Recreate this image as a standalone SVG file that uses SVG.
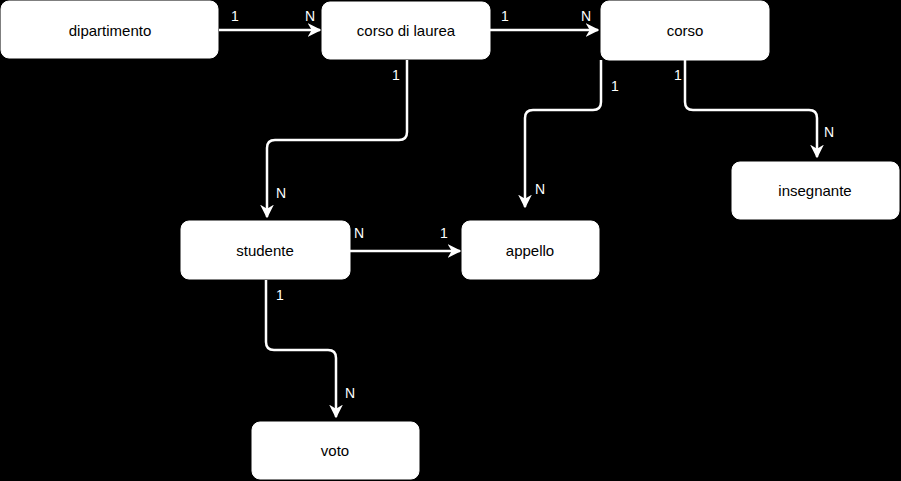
<svg xmlns="http://www.w3.org/2000/svg" width="901" height="481" viewBox="0 0 901 481">
<style>
.node rect{fill:#fff;stroke:#fff;stroke-width:1}
.node text{font-family:"Liberation Sans",Arial,sans-serif;font-size:15px;fill:#000;text-anchor:middle;dominant-baseline:central}
.edge{fill:none;stroke:#fff;stroke-width:2.5;stroke-linejoin:round;marker-end:url(#arr)}
.lbl{font-family:"Liberation Sans",Arial,sans-serif;font-size:14px;fill:#fff;text-anchor:middle}
</style>
<defs>
<marker id="arr" viewBox="0 0 10 10" refX="9" refY="5" markerWidth="5.5" markerHeight="5.5" orient="auto" markerUnits="strokeWidth">
<path d="M0,0 L10,5 L0,10 L3,5 Z" fill="#fff"/>
</marker>
</defs>
<rect x="0" y="0" width="901" height="481" fill="#000"/>
<g id="connectors">
<path class="edge" d="M219,30 L320,30"/>
<path class="edge" d="M490,30 L598,30"/>
<path class="edge" d="M407,60 L407,132 Q407,140 399,140 L275,140 Q267,140 267,148 L267,217"/>
<path class="edge" d="M601,60 L601,102 Q601,110 593,110 L533,110 Q525,110 525,118 L525,207"/>
<path class="edge" d="M685,60 L685,102 Q685,110 693,110 L809,110 Q817,110 817,118 L817,157"/>
<path class="edge" d="M350,251 L460,251"/>
<path class="edge" d="M266,280 L266,342 Q266,350 274,350 L328,350 Q336,350 336,358 L336,417"/>
<g>
<text class="lbl" x="235" y="21">1</text>
<text class="lbl" x="310" y="21">N</text>
<text class="lbl" x="505" y="21">1</text>
<text class="lbl" x="586" y="21">N</text>
<text class="lbl" x="396" y="80">1</text>
<text class="lbl" x="281" y="198">N</text>
<text class="lbl" x="615" y="91">1</text>
<text class="lbl" x="540" y="194">N</text>
<text class="lbl" x="678" y="80">1</text>
<text class="lbl" x="829" y="137">N</text>
<text class="lbl" x="359" y="238">N</text>
<text class="lbl" x="444" y="238">1</text>
<text class="lbl" x="280" y="300">1</text>
<text class="lbl" x="350" y="398">N</text>
</g>
</g>
<g id="dipartimento" class="node"><rect x="1" y="1" width="217" height="57" rx="8"/><text x="110" y="30">dipartimento</text></g>
<g id="corso-di-laurea" class="node"><rect x="322" y="2" width="168" height="57" rx="8"/><text x="406" y="30">corso di laurea</text></g>
<g id="corso" class="node"><rect x="601" y="1" width="168" height="59" rx="8"/><text x="685" y="30">corso</text></g>
<g id="insegnante" class="node"><rect x="732" y="162" width="167" height="57" rx="8"/><text x="815" y="190">insegnante</text></g>
<g id="studente" class="node"><rect x="181" y="221" width="169" height="58" rx="8"/><text x="265" y="250">studente</text></g>
<g id="appello" class="node"><rect x="462" y="221" width="137" height="58" rx="8"/><text x="530" y="250">appello</text></g>
<g id="voto" class="node"><rect x="252" y="422" width="167" height="57" rx="8"/><text x="335" y="450">voto</text></g>
</svg>
